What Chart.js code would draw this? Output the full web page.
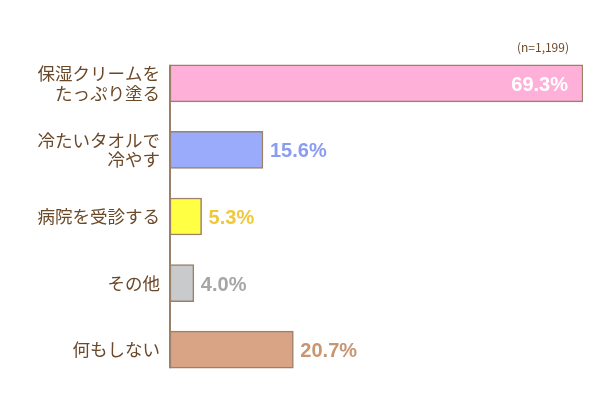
<!DOCTYPE html>
<html>
<head>
<meta charset="utf-8">
<script src="https://cdn.jsdelivr.net/npm/chart.js@4"></script>
<style>
html, body { margin: 0; padding: 0; background: #fff; }
#wrap { width: 600px; height: 418px; }
</style>
</head>
<body>
<div id="wrap"><canvas id="chart"></canvas></div>
<script>
const categories = [
    ['保湿クリームを', 'たっぷり塗る'],
    ['冷たいタオルで', '冷やす'],
    '病院を受診する',
    'その他',
    '何もしない'
];
const percents = [69.3, 15.6, 5.3, 4.0, 20.7];
const barColors = ['#ffb0d9', '#99abfa', '#ffff44', '#c9cacc', '#d9a486'];
const labelColors = ['#ffffff', '#8a9cf0', '#f0c83a', '#a6a6a6', '#c99571'];
const sampleNote = '(n=1,199)';

const brown = '#6b4828';

// vertical axis line, only from the first bar to the last one
const axisLine = {
    id: 'axisLine',
    beforeDatasetsDraw(chart) {
        const bars = chart.getDatasetMeta(0).data;
        const first = bars[0], last = bars[bars.length - 1];
        const ctx = chart.ctx;
        const x = chart.chartArea.left;
        ctx.save();
        ctx.strokeStyle = '#7a5434';
        ctx.lineWidth = 1.5;
        ctx.beginPath();
        ctx.moveTo(x, first.y - first.height / 2);
        ctx.lineTo(x, last.y + last.height / 2);
        ctx.stroke();
        ctx.restore();
    }
};

// percentage labels + sample size note
const valueLabels = {
    id: 'valueLabels',
    afterDatasetsDraw(chart) {
        const ctx = chart.ctx;
        const bars = chart.getDatasetMeta(0).data;
        ctx.save();
        ctx.font = 'bold 20px "Liberation Sans", Arial, sans-serif';
        ctx.textBaseline = 'middle';
        bars.forEach((bar, i) => {
            const txt = percents[i].toFixed(1) + '%';
            ctx.fillStyle = labelColors[i];
            if (i === 0) {
                ctx.textAlign = 'right';
                ctx.fillText(txt, bar.x - 15, bar.y + 2);
            } else {
                ctx.textAlign = 'left';
                ctx.fillText(txt, bar.x + 7, bar.y + 2);
            }
        });
        ctx.font = '12px "Noto Sans CJK JP", sans-serif';
        ctx.fillStyle = brown;
        ctx.textAlign = 'right';
        ctx.fillText(sampleNote, chart.chartArea.right - 14, 47);
        ctx.restore();
    }
};

new Chart(document.getElementById('chart'), {
    type: 'bar',
    data: {
        labels: categories,
        datasets: [{
            data: percents,
            backgroundColor: barColors,
            borderColor: '#9c8068',
            borderWidth: 1.5,
            borderSkipped: false,
            barThickness: 37
        }]
    },
    options: {
        indexAxis: 'y',
        responsive: true,
        maintainAspectRatio: false,
        animation: false,
        layout: {
            padding: { top: 50, right: 17, bottom: 35, left: 0 }
        },
        plugins: {
            legend: { display: false },
            tooltip: { enabled: false }
        },
        scales: {
            x: {
                display: false,
                min: 0,
                max: 69.3
            },
            y: {
                afterFit(scale) { scale.width = 170; },
                border: { display: false },
                grid: { display: false, drawTicks: false },
                ticks: {
                    padding: 10,
                    color: brown,
                    font: { family: '"Noto Sans CJK JP", sans-serif', size: 17.5, lineHeight: 1.1 }
                }
            }
        }
    },
    plugins: [axisLine, valueLabels]
});
</script>
</body>
</html>
